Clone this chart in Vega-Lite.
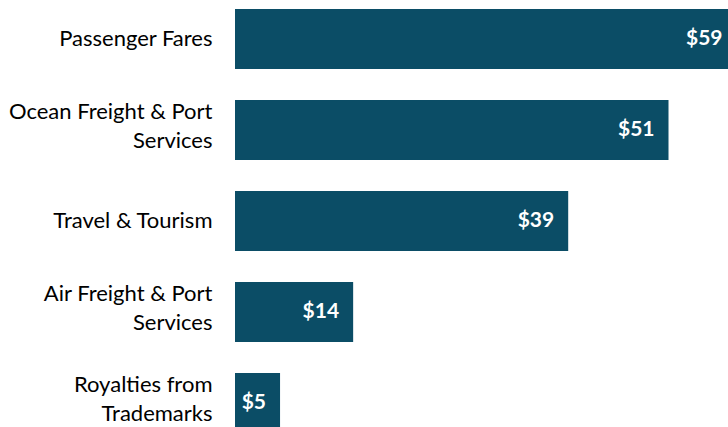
{
  "$schema": "https://vega.github.io/schema/vega-lite/v6.json",
  "autosize": "none",
  "width": 493,
  "height": 442,
  "padding": {"left": 235, "top": 0, "right": 0, "bottom": 0},
  "background": "white",
  "config": {"view": {"stroke": null}, "font": "Lato"},
  "data": {"values": [
    {"category": "Passenger Fares", "value": 59, "text": "$59"},
    {"category": "Ocean Freight & Port|Services", "value": 51, "text": "$51"},
    {"category": "Travel & Tourism", "value": 39.2, "text": "$39"},
    {"category": "Air Freight & Port|Services", "value": 13.9, "text": "$14"},
    {"category": "Royalties from|Trademarks", "value": 5.3, "text": "$5"}
  ]},
  "encoding": {
    "y": {"field": "category", "type": "nominal", "sort": null,
      "scale": {"paddingInner": 0.34, "paddingOuter": 0.1},
      "axis": {"title": null, "ticks": false, "domain": false, "labelPadding": 23,
        "labelFont": "Lato", "labelFontSize": 22, "labelColor": "#000000",
        "labelLineHeight": 29, "labelLimit": 300,
        "labelOffset": {"condition": {"test": "indexof(datum.value, '|') >= 0", "value": -18}, "value": 0},
        "labelExpr": "split(datum.label, '|')"}},
    "x": {"field": "value", "type": "quantitative",
      "scale": {"domain": [0, 58], "nice": false, "zero": true},
      "axis": null}
  },
  "layer": [
    {"mark": {"type": "bar", "color": "#0b4d66", "clip": true}},
    {"mark": {"type": "text", "align": "right", "baseline": "middle", "dx": -14, "font": "Lato", "fontSize": 21, "fontWeight": "bold", "color": "white"},
     "encoding": {"text": {"field": "text"}}}
  ]
}
